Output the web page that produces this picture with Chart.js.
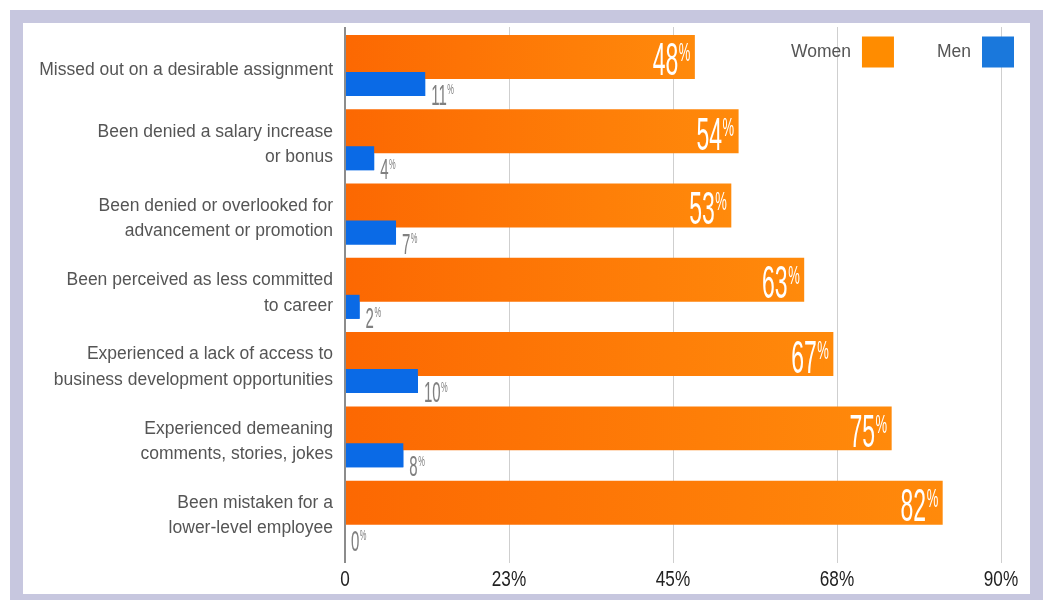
<!DOCTYPE html>
<html>
<head>
<meta charset="utf-8">
<script src="https://cdn.jsdelivr.net/npm/chart.js@4.4.1/dist/chart.umd.min.js"></script>
<style>
  body { margin: 0; background: #fff; }
  #frame {
    position: absolute; left: 10px; top: 10px;
    width: 1007px; height: 571px;
    border: 13px solid #c7c7df; background: #fff;
  }
  canvas { display: block; }
</style>
</head>
<body>
<div id="frame"><canvas id="survey" width="1007" height="571"></canvas></div>
<script>
const categories = [
  ['Missed out on a desirable assignment'],
  ['Been denied a salary increase', 'or bonus'],
  ['Been denied or overlooked for', 'advancement or promotion'],
  ['Been perceived as less committed', 'to career'],
  ['Experienced a lack of access to', 'business development opportunities'],
  ['Experienced demeaning', 'comments, stories, jokes'],
  ['Been mistaken for a', 'lower-level employee']
];
const women = [48, 54, 53, 63, 67, 75, 82];
const men = [11, 4, 7, 2, 10, 8, 0];
const xTicks = [0, 22.5, 45, 67.5, 90];

const LABEL_FONT = '"Liberation Sans", Arial, sans-serif';
const NUM_FONT = '"Liberation Sans", Arial, sans-serif';

// each orange bar fades from red-orange at the axis to a lighter orange at its tip
function womenFill(c) {
  const chart = c.chart;
  if (!chart.chartArea || c.raw == null) return '#ff7a05';
  const xs = chart.scales.x;
  const x0 = xs.getPixelForValue(0);
  const x1 = xs.getPixelForValue(c.raw);
  const g = chart.ctx.createLinearGradient(x0, 0, x1, 0);
  g.addColorStop(0, '#fc6802');
  g.addColorStop(1, '#ff8a0b');
  return g;
}

// squeezed text so the numbers look like a condensed display face
function squeezed(ctx, text, x, y, px, sq, align) {
  ctx.save();
  ctx.font = px + 'px ' + NUM_FONT;
  ctx.translate(x, y);
  ctx.scale(sq, 1);
  ctx.textAlign = align || 'left';
  ctx.textBaseline = 'alphabetic';
  ctx.fillText(text, 0, 0);
  ctx.restore();
}
function squeezedWidth(ctx, text, px, sq) {
  ctx.save();
  ctx.font = px + 'px ' + NUM_FONT;
  const w = ctx.measureText(text).width * sq;
  ctx.restore();
  return w;
}
// number with a small raised % sign, top aligned with the digits
function pctLabel(ctx, value, x, baseline, big, small, alignRight) {
  const sq = 0.5;
  const num = String(value);
  const wn = squeezedWidth(ctx, num, big, sq);
  const wp = squeezedWidth(ctx, '%', small, sq);
  const start = alignRight ? x - wn - wp : x;
  squeezed(ctx, num, start, baseline, big, sq);
  squeezed(ctx, '%', start + wn + 0.5, baseline - 0.716 * big + 0.728 * small, small, sq);
}

const barValues = {
  id: 'barValues',
  afterDatasetsDraw(chart) {
    const ctx = chart.ctx;
    // blue bars overlap the bottom of the orange ones, so paint them again on top
    chart.getDatasetMeta(1).controller.draw();

    ctx.save();
    ctx.fillStyle = '#ffffff';
    chart.getDatasetMeta(0).data.forEach((bar, i) => {
      pctLabel(ctx, women[i], bar.x - 5, bar.y + 18.5, 46, 26, true);
    });
    ctx.fillStyle = '#808080';
    chart.getDatasetMeta(1).data.forEach((bar, i) => {
      pctLabel(ctx, men[i], bar.x + 6, bar.y + 21, 30, 15, false);
    });
    ctx.restore();
  }
};

// x tick labels in a narrow face, under the tick marks
const narrowTicks = {
  id: 'narrowTicks',
  afterDraw(chart) {
    const ctx = chart.ctx;
    const xs = chart.scales.x;
    ctx.save();
    ctx.fillStyle = '#222222';
    xs.ticks.forEach(t => {
      squeezed(ctx, t.label, xs.getPixelForValue(t.value), xs.top + 39, 22, 0.78, 'center');
    });
    ctx.restore();
  }
};

// legend in the top right corner: label text followed by a square swatch
const cornerLegend = {
  id: 'cornerLegend',
  afterDraw(chart) {
    const ctx = chart.ctx;
    const area = chart.chartArea;
    const box = 32, boxH = 31, gap = 11, itemGap = 43;
    const cy = area.top + 25;
    let xr = area.right + 13;
    ctx.save();
    ctx.font = '17.5px ' + LABEL_FONT;
    ctx.textBaseline = 'middle';
    ctx.textAlign = 'right';
    const sets = chart.data.datasets.slice().reverse();
    sets.forEach(ds => {
      ctx.fillStyle = ds.borderColor;
      ctx.fillRect(xr - box, cy - boxH / 2, box, boxH);
      ctx.fillStyle = '#555555';
      const tx = xr - box - gap;
      ctx.fillText(ds.label, tx, cy);
      xr = tx - ctx.measureText(ds.label).width - itemGap;
    });
    ctx.restore();
  }
};

new Chart(document.getElementById('survey'), {
  type: 'bar',
  data: {
    labels: categories,
    datasets: [
      {
        label: 'Women',
        data: women,
        backgroundColor: womenFill,
        borderColor: '#ff8c00',
        borderWidth: 0,
        // pull the orange bar up from the row centre
        categoryPercentage: 0.3875,
        barPercentage: 3.056
      },
      {
        label: 'Men',
        data: men,
        backgroundColor: '#0a6ae6',
        borderColor: '#1a78dc',
        borderWidth: 0,
        // and push the thinner blue bar down so it just tucks under the orange one
        categoryPercentage: 1.0655,
        barPercentage: 0.606
      }
    ]
  },
  options: {
    indexAxis: 'y',
    responsive: false,
    animation: false,
    devicePixelRatio: 1,
    layout: { padding: { top: 4, right: 29, left: 0, bottom: 0 } },
    plugins: {
      legend: { display: false },
      tooltip: { enabled: false }
    },
    scales: {
      x: {
        type: 'linear',
        min: 0,
        max: 90,
        afterBuildTicks: s => { s.ticks = xTicks.map(v => ({ value: v })); },
        afterFit: s => { s.height = 47; s.paddingLeft = 0; s.paddingRight = 0; },
        border: { display: false },
        grid: {
          color: c => c.tick && c.tick.value === 0 ? '#8c8c8c' : '#cfcfcf',
          lineWidth: c => c.tick && c.tick.value === 0 ? 2 : 1,
          tickLength: 16
        },
        ticks: {
          display: false,
          callback: v => v === 0 ? '0' : Math.round(v) + '%'
        }
      },
      y: {
        afterFit: s => { s.width = 322; s.paddingTop = 0; s.paddingBottom = 0; },
        border: { display: false },
        grid: { display: false, drawTicks: false },
        ticks: {
          autoSkip: false,
          padding: 12,
          labelOffset: 6,
          color: '#555555',
          font: { family: LABEL_FONT, size: 17.5, lineHeight: 1.45 }
        }
      }
    }
  },
  plugins: [barValues, narrowTicks, cornerLegend]
});
</script>
</body>
</html>
